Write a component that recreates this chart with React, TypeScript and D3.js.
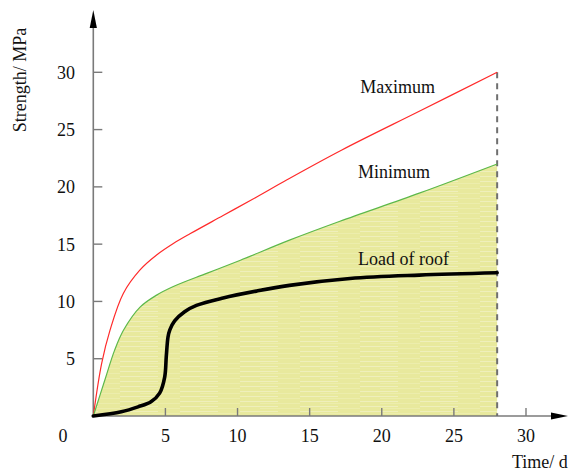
import React from "react";
import * as d3 from "d3";

const xTicks = [5, 10, 15, 20, 25, 30];
const yTicks = [5, 10, 15, 20, 25, 30];

const maxDays = [0, 0.58, 1.16, 2.08, 3.24, 4.39, 5.55, 6.7, 9.0, 11.3, 13.4, 17.2, 22.6, 28];
const maxVals = [0, 4.6, 7.5, 10.7, 12.75, 14.05, 15.05, 15.9, 17.5, 19.1, 20.6, 23.2, 26.6, 30];

const minDays = [0, 0.79, 1.48, 2.1, 3.24, 4.39, 5.55, 7.86, 10.2, 13.6, 17.1, 22.6, 28];
const minVals = [0, 3.1, 5.75, 7.5, 9.5, 10.55, 11.3, 12.45, 13.6, 15.35, 17.0, 19.45, 22];

const loadDays = [0, 1.94, 3.1, 4.0, 4.6, 4.95, 5.06, 5.18, 5.3, 5.64, 6.33, 7.15, 9.0, 11.3, 13.6, 17.8, 22.6, 28];
const loadVals = [0, 0.37, 0.8, 1.25, 2.0, 3.4, 5.2, 6.9, 7.5, 8.3, 9.1, 9.65, 10.3, 10.9, 11.4, 12.0, 12.3, 12.5];

const endDay = 28;
const labels = [
  { text: "Maximum", t: 18.5, v: 28.2 },
  { text: "Minimum", t: 18.35, v: 20.75 },
  { text: "Load of roof", t: 18.35, v: 13.2 },
];

const W = 569;
const H = 473;
const FONT = "Liberation Serif, Times New Roman, Times, DejaVu Serif, serif";

export default function App() {
  const x = d3.scaleLinear().domain([0, 30]).range([93.3, 526]);
  const y = d3.scaleLinear().domain([0, 30]).range([416, 72.3]);

  const toPts = (ds: number[], vs: number[]) => ds.map((d, i) => [d, vs[i]] as [number, number]);
  const curve = d3.curveCatmullRom.alpha(0.5);
  const line = d3
    .line<[number, number]>()
    .x((d) => x(d[0]))
    .y((d) => y(d[1]))
    .curve(curve);
  const area = d3
    .area<[number, number]>()
    .x((d) => x(d[0]))
    .y0(y(0))
    .y1((d) => y(d[1]))
    .curve(curve);

  const maxPts = toPts(maxDays, maxVals);
  const minPts = toPts(minDays, minVals);
  const loadPts = toPts(loadDays, loadVals);

  const ox = x(0);
  const oy = y(0);
  const axisColor = "#7a7a7a";
  const ts = { fontFamily: FONT, fontSize: "18px" };

  return (
    <svg
      width={W}
      height={H}
      style={{ position: "absolute", left: 0, top: 0, background: "#fff" }}
    >
      <defs>
        <pattern id="streak" width="60" height="5" patternUnits="userSpaceOnUse">
          <rect width="60" height="5" fill="#e8e99d" />
          <line x1="0" x2="38" y1="1.5" y2="1.5" stroke="#f3f3c8" strokeWidth="1" opacity="0.7" />
          <line x1="20" x2="60" y1="3.5" y2="3.5" stroke="#f0f0bd" strokeWidth="0.8" opacity="0.6" />
        </pattern>
      </defs>

      <path d={area(minPts) || ""} fill="url(#streak)" />

      {/* axes */}
      <line x1={ox} x2={ox} y1={oy} y2={26} stroke={axisColor} strokeWidth={1.6} />
      <line x1={ox} x2={560} y1={oy} y2={oy} stroke={axisColor} strokeWidth={1.6} />
      <path d={`M${ox},10 L${ox - 3.6},28 L${ox + 3.6},28 Z`} fill="#000" />
      <path d={`M568,${oy} L551,${oy - 3.6} L551,${oy + 3.6} Z`} fill="#000" />

      {xTicks.map((t) => (
        <g key={"x" + t}>
          <line x1={x(t)} x2={x(t)} y1={oy} y2={oy - 8} stroke={axisColor} strokeWidth={1.4} />
          <text x={x(t)} y={441.5} textAnchor="middle" style={ts} fill="#111">
            {t}
          </text>
        </g>
      ))}
      {yTicks.map((v) => (
        <g key={"y" + v}>
          <line x1={ox} x2={ox + 9} y1={y(v)} y2={y(v)} stroke={axisColor} strokeWidth={1.4} />
          <text x={75} y={y(v) + 6.5} textAnchor="end" style={ts} fill="#111">
            {v}
          </text>
        </g>
      ))}
      <text x={63} y={441.5} textAnchor="middle" style={ts} fill="#111">
        0
      </text>
      <text x={512} y={468} style={ts} fill="#111">
        Time/ d
      </text>
      <text
        transform={`translate(26,80) rotate(-90)`}
        textAnchor="middle"
        style={ts}
        fill="#111"
      >
        Strength/ MPa
      </text>

      {/* dashed end line */}
      <line
        x1={x(endDay)}
        x2={x(endDay)}
        y1={y(30)}
        y2={oy}
        stroke="#6f6f6f"
        strokeWidth={2}
        strokeDasharray="6,5"
      />

      <path d={line(maxPts) || ""} fill="none" stroke="#ff2a2a" strokeWidth={1.2} />
      <path d={line(minPts) || ""} fill="none" stroke="#5cb84a" strokeWidth={1.2} />
      <path d={line(loadPts) || ""} fill="none" stroke="#000" strokeWidth={3.6} strokeLinecap="round" />

      {labels.map((l) => (
        <text key={l.text} x={x(l.t)} y={y(l.v)} style={ts} fill="#111">
          {l.text}
        </text>
      ))}
    </svg>
  );
}
